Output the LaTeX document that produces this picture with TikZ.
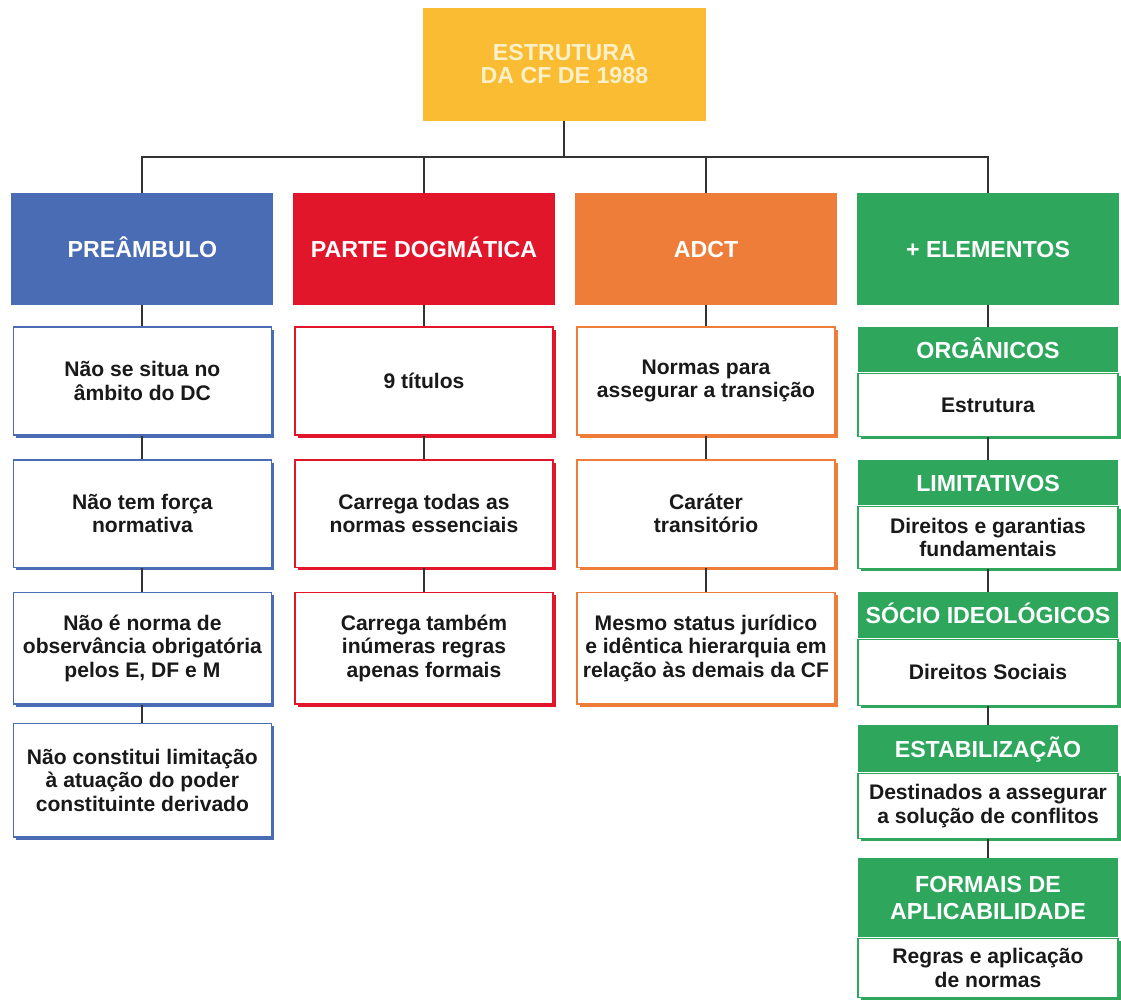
\documentclass[tikz,border=0pt]{standalone}
\usepackage{fontspec}
\setmainfont{Liberation Sans}
\usepackage{tikz}
\usetikzlibrary{positioning,shadows}
\definecolor{cfyellow}{RGB}{249,188,50}
\definecolor{cfblue}{RGB}{74,108,180}
\definecolor{cfred}{RGB}{226,22,43}
\definecolor{cforange}{RGB}{238,125,58}
\definecolor{cfgreen}{RGB}{46,167,92}
\definecolor{toptext}{RGB}{255,240,200}
\newcommand{\headfont}{\fontsize{16.5}{18}\selectfont\bfseries}
\newcommand{\itemfont}{\fontsize{15}{16.6}\selectfont\bfseries}

\begin{document}
\begin{tikzpicture}[
  caps/.style={text height=11.8pt, text depth=0pt},
  head/.style={fill=#1, text=white, minimum width=65.5mm, minimum height=28mm, align=center, font=\headfont, inner sep=1mm, caps},
  item/.style={draw=#1, fill=white, line width=0.8pt, drop shadow={fill=#1, opacity=1, shadow xshift=1.8pt, shadow yshift=-1.8pt}, minimum width=64.5mm, align=center, font=\itemfont, text=black!90, inner sep=1mm},
  sub/.style={fill=cfgreen, text=white, minimum width=65mm, align=center, font=\headfont, inner sep=0.5mm, anchor=north},
  link/.style={line width=1.3pt, draw=black!80}
]
\useasboundingbox (0,0) rectangle (28.025,-25.025);

% top of the tree
\node[fill=cfyellow, text=toptext, minimum width=70.8mm, minimum height=28.3mm, align=center,
  font=\fontsize{16.5}{16.4}\selectfont\bfseries] (top) at (14.11,-1.61) {ESTRUTURA\\DA CF DE 1988};
\coordinate (bus) at (14.11,-3.925);

% the four parts
\node[head=cfblue] (pre) at (3.56,-6.225) {PREÂMBULO};
\node[head=cfred] (dog) at (10.6,-6.225) {PARTE DOGMÁTICA};
\node[head=cforange] (adc) at (17.65,-6.225) {ADCT};
\node[head=cfgreen] (ele) at (24.7,-6.225) {+ ELEMENTOS};

% preambulo
\node[item=cfblue, minimum height=27mm] (pre1) at (3.56,-9.525) {Não se situa no\\âmbito do DC};
\node[item=cfblue, minimum height=26.8mm] (pre2) at (3.56,-12.84) {Não tem força\\normativa};
\node[item=cfblue, minimum height=27.8mm] (pre3) at (3.56,-16.21) {Não é norma de\\observância obrigatória\\pelos E, DF e M};
\node[item=cfblue, minimum height=28.3mm] (pre4) at (3.56,-19.51) {Não constitui limitação\\à atuação do poder\\constituinte derivado};

% parte dogmatica
\node[item=cfred, minimum height=27mm] (dog1) at (10.6,-9.525) {9 títulos};
\node[item=cfred, minimum height=26.8mm] (dog2) at (10.6,-12.84) {Carrega todas as\\normas essenciais};
\node[item=cfred, minimum height=27.8mm] (dog3) at (10.6,-16.21) {Carrega também\\inúmeras regras\\apenas formais};

% adct
\node[item=cforange, minimum height=27mm] (adc1) at (17.65,-9.525) {Normas para\\assegurar a transição};
\node[item=cforange, minimum height=26.8mm] (adc2) at (17.65,-12.84) {Caráter\\transitório};
\node[item=cforange, minimum height=27.8mm] (adc3) at (17.65,-16.21) {Mesmo status jurídico\\e idêntica hierarquia em\\relação às demais da CF};

% elementos: green title over a white box
\node[sub, caps, minimum height=11.3mm] (org) at (24.7,-8.175) {ORGÂNICOS};
\node[item=cfgreen, minimum width=65mm, minimum height=15.8mm, below=0pt of org] (orgb) {Estrutura};
\node[sub, caps, minimum height=11.3mm] (lim) at (24.7,-11.5) {LIMITATIVOS};
\node[item=cfgreen, minimum width=65mm, minimum height=15.5mm, below=0pt of lim] (limb) {Direitos e garantias\\fundamentais};
\node[sub, caps, minimum height=11.5mm] (soc) at (24.7,-14.8) {SÓCIO IDEOLÓGICOS};
\node[item=cfgreen, minimum width=65mm, minimum height=16.5mm, below=0pt of soc] (socb) {Direitos Sociais};
\node[sub, caps, minimum height=11.8mm] (est) at (24.7,-18.125) {ESTABILIZAÇÃO};
\node[item=cfgreen, minimum width=65mm, minimum height=16.3mm, below=0pt of est] (estb) {Destinados a assegurar\\a solução de conflitos};
\node[sub, minimum height=19.8mm, font=\fontsize{16.5}{19}\selectfont\bfseries] (fap) at (24.7,-21.45) {FORMAIS DE\\APLICABILIDADE};
\node[item=cfgreen, minimum width=65mm, minimum height=14.8mm, below=0pt of fap] (fapb) {Regras e aplicação\\de normas};

% connectors
\draw[link] (top) -- (bus);
\draw[link] (pre.north) |- (bus) -| (ele.north);
\draw[link] (dog.north) -- (dog.north |- bus);
\draw[link] (adc.north) -- (adc.north |- bus);
\draw[link] (pre) -- (pre1) -- (pre2) -- (pre3) -- (pre4);
\draw[link] (dog) -- (dog1) -- (dog2) -- (dog3);
\draw[link] (adc) -- (adc1) -- (adc2) -- (adc3);
\draw[link] (ele) -- (org);
\draw[link] (orgb) -- (lim);
\draw[link] (limb) -- (soc);
\draw[link] (socb) -- (est);
\draw[link] (estb) -- (fap);
\end{tikzpicture}
\end{document}
